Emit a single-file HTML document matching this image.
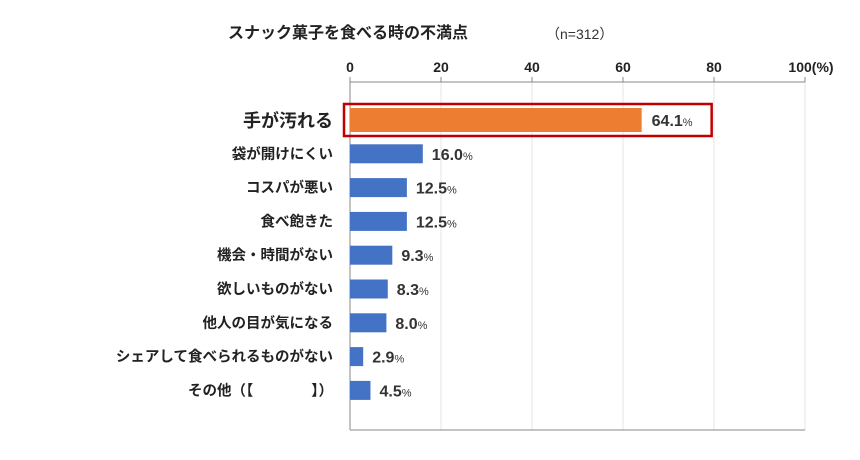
<!DOCTYPE html>
<html><head><meta charset="utf-8"><style>
body{margin:0;background:#fff;}
svg text{font-family:"Liberation Sans","Noto Sans CJK JP",sans-serif;}
</style></head><body>
<svg width="860" height="455">
<text x="228" y="38" font-size="16" font-weight="bold" fill="#222">スナック菓子を食べる時の不満点</text>
<text x="546" y="39" font-size="14" fill="#333">（n=312）</text>
<g id="axes"></g>
<g id="bars"></g>
</svg>
<script>
const categories=["手が汚れる","袋が開けにくい","コスパが悪い","食べ飽きた","機会・時間がない","欲しいものがない","他人の目が気になる","シェアして食べられるものがない","その他（【　　　　】）"];
const values=[64.1,16.0,12.5,12.5,9.3,8.3,8.0,2.9,4.5];
const ticks=[0,20,40,60,80,100];
const tickLabels=["0","20","40","60","80","100(%)"];
const x0=350,x1=805,yTop=82,yBottom=430;
const xs=v=>x0+(x1-x0)*v/100;
const yc=i=>120+i*33.8;
const NS="http://www.w3.org/2000/svg";
const ax=document.getElementById('axes'),bg=document.getElementById('bars');
function mk(tag,at,parent){const e=document.createElementNS(NS,tag);for(const k in at)e.setAttribute(k,at[k]);parent.appendChild(e);return e;}
ticks.forEach((t,i)=>{
 const g=mk('line',{x1:xs(t),x2:xs(t),y1:yTop,y2:yBottom,stroke:i==0?'#888':'#e4e4e4','stroke-width':1},ax);
 
 
 const tk=mk('line',{x1:xs(t),x2:xs(t),y1:yTop-5,y2:yTop,stroke:'#888'},ax);
 
 
 const tx=mk('text',{x:i==5?xs(t)+6:xs(t),y:72,'font-size':14,'font-weight':'bold','text-anchor':'middle',fill:'#222'},ax);
 tx.textContent=tickLabels[i];
 
 
});
const tl=mk('line',{x1:x0,x2:x1,y1:yTop,y2:yTop,stroke:'#888'},ax);


const bl=mk('line',{x1:x0,x2:x1,y1:yBottom,y2:yBottom,stroke:'#888'},ax);


categories.forEach((c,i)=>{
 const hi=i==0,h=hi?24:19,y=yc(i);
 const r=mk('rect',{x:x0,y:y-h/2,width:xs(values[i])-x0,height:h,fill:hi?'#ed7d31':'#4472c4'},bg);
 
 
 const lb=mk('text',{x:333,y:y+(hi?7:5),'font-size':hi?18:14.5,'font-weight':'bold','text-anchor':'end',fill:'#222'},bg);
 lb.textContent=c;
 
 
 const vt=mk('text',{x:xs(values[i])+(hi?10:9),y:y+6,'font-size':16,'font-weight':'bold',fill:'#333'},bg);
 vt.textContent=values[i].toFixed(1);
 const ps=mk('tspan',{'font-size':11,'font-weight':'normal'},vt);ps.textContent='%';
 
 
 if(hi){
  const hb=mk('rect',{x:344,y:y-16,width:xs(values[i])-344+70,height:32,fill:'none',stroke:'#c00000','stroke-width':2.5},bg);
  
  
 }
});
</script>
</body></html>
